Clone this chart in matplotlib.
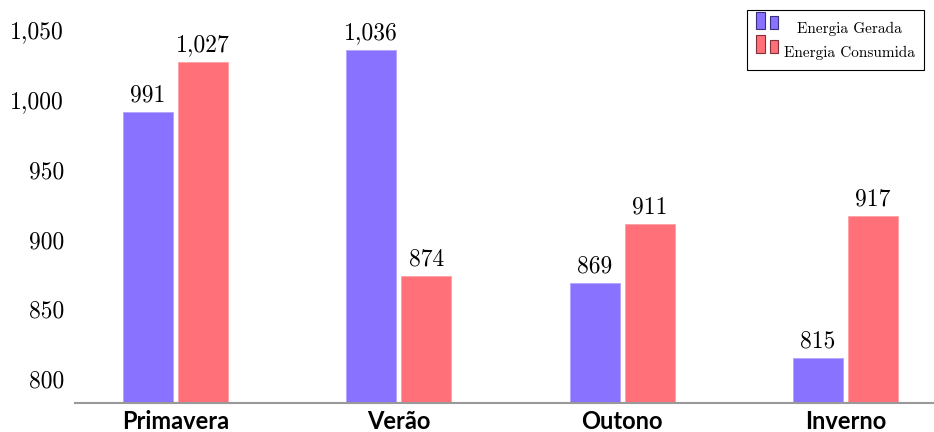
import numpy as np
import matplotlib.pyplot as plt
from matplotlib.patches import Rectangle
from matplotlib.ticker import FuncFormatter

seasons = ['Primavera', 'Verão', 'Outono', 'Inverno']
gerada = [991, 1036, 869, 815]
consumida = [1027, 874, 911, 917]

blue = '#8872ff'
red = '#ff7078'


class TwoBarHandler:
    # legend handle: two small bars of different height
    def legend_artist(self, legend, orig_handle, fontsize, handlebox):
        x0, y0 = handlebox.xdescent, handlebox.ydescent
        w, h = handlebox.width, handlebox.height
        fc = orig_handle.get_facecolor()
        ec = orig_handle.get_edgecolor()
        bw = w * 0.38
        r1 = Rectangle((x0, y0), bw, h, facecolor=fc, edgecolor=ec, lw=0.8,
                       transform=handlebox.get_transform())
        r2 = Rectangle((x0 + w - bw, y0), bw, h * 0.75, facecolor=fc, edgecolor=ec, lw=0.8,
                       transform=handlebox.get_transform())
        handlebox.add_artist(r1)
        handlebox.add_artist(r2)
        return r1


fig = plt.figure(figsize=(9.34, 4.32), dpi=100)
ax = fig.add_axes([75 / 934, 29 / 432, 859 / 934, 403 / 432])

x = np.arange(len(seasons))
w = 0.224
off = 0.123
b1 = ax.bar(x - off, gerada, w, color=blue, edgecolor='#b0a4ff', linewidth=0.6)
b2 = ax.bar(x + off, consumida, w, color=red, edgecolor='#ffa0a5', linewidth=0.6)

fmt = lambda v: f'{v:,.0f}'
for bars in (b1, b2):
    ax.bar_label(bars, labels=[fmt(v) for v in bars.datavalues], padding=4,
                 family='cmr10', fontsize=17)

ax.set_xlim(-0.45, 3.397)
ax.set_ylim(783, 1071.5)
ax.set_yticks([800, 850, 900, 950, 1000, 1050])
ax.yaxis.set_major_formatter(FuncFormatter(lambda v, p: f'{v:,.0f}'))
ax.set_xticks(x)
ax.set_xticklabels(seasons, family='Lato', fontweight='bold', fontsize=17)
for lab in ax.get_yticklabels():
    lab.set_family('cmr10')
    lab.set_fontsize(17)
ax.tick_params(axis='y', length=0, pad=8)
ax.tick_params(axis='x', length=0, pad=5)

for s in ['top', 'right', 'left']:
    ax.spines[s].set_visible(False)
ax.spines['bottom'].set_color('#999999')
ax.spines['bottom'].set_linewidth(1.5)

h1 = Rectangle((0, 0), 1, 1, facecolor=blue, edgecolor='#3a3080')
h2 = Rectangle((0, 0), 1, 1, facecolor=red, edgecolor='#803038')
leg = ax.legend([h1, h2], ['Energia Gerada', 'Energia Consumida'],
                handler_map={Rectangle: TwoBarHandler()},
                loc='upper right', bbox_to_anchor=(924 / 934, 1 - 10 / 432),
                bbox_transform=fig.transFigure, borderaxespad=0,
                prop={'family': 'cmr10', 'size': 11},
                fancybox=False, framealpha=1, edgecolor='black',
                handlelength=1.45, handleheight=1.4, handletextpad=0.35,
                labelspacing=0.4, borderpad=0.6)
leg.get_frame().set_linewidth(0.8)

# center the shorter label like the reference
fig.canvas.draw()
r = fig.canvas.get_renderer()
texts = leg.get_texts()
wids = [t.get_window_extent(r).width for t in texts]
texts[0].set_position(((max(wids) - wids[0]) / 2, 0))

fig.savefig('out.png', dpi=100)
